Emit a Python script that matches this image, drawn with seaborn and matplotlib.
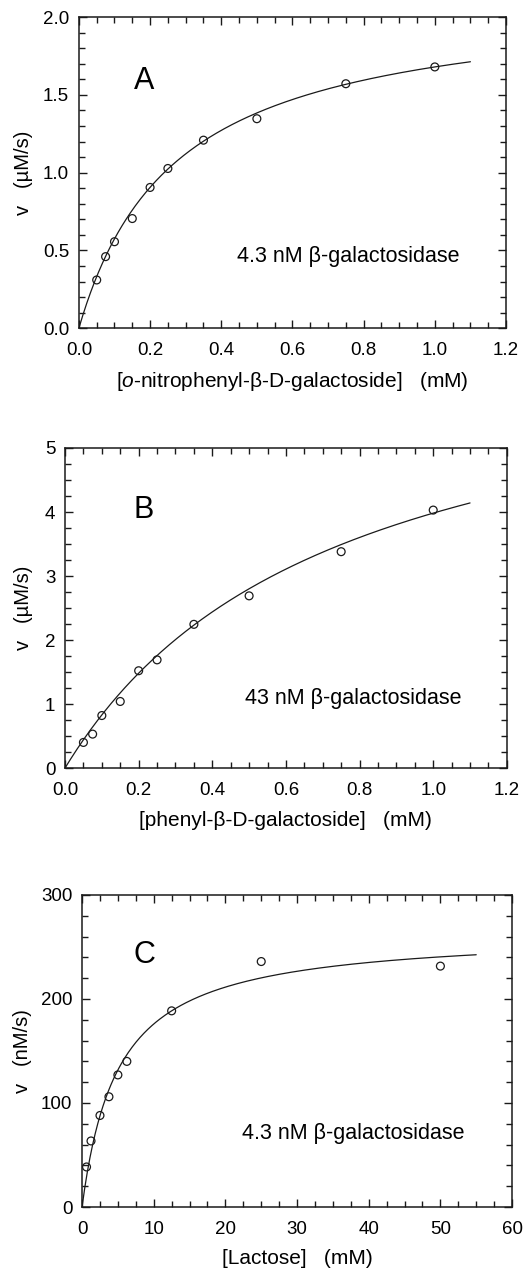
import numpy as np
import pandas as pd
import matplotlib
matplotlib.use("Agg")
import matplotlib.pyplot as plt
import seaborn as sns
from matplotlib.ticker import MultipleLocator, FormatStrFormatter

# panel A: o-nitrophenyl-beta-D-galactoside
onpg_conc = [0.05, 0.075, 0.1, 0.15, 0.2, 0.25, 0.35, 0.5, 0.75, 1.0]
onpg_rate = [0.31, 0.46, 0.556, 0.705, 0.905, 1.027, 1.209, 1.347, 1.572, 1.68]
onpg_fit = (2.137, 0.272)   # Vmax, Km

# panel B: phenyl-beta-D-galactoside
pg_conc = [0.05, 0.075, 0.1, 0.15, 0.2, 0.25, 0.35, 0.5, 0.75, 1.0]
pg_rate = [0.40, 0.53, 0.82, 1.04, 1.52, 1.69, 2.245, 2.69, 3.38, 4.03]
pg_fit = (6.89, 0.73)

# panel C: lactose
lac_conc = [0.625, 1.25, 2.5, 3.75, 5.0, 6.25, 12.5, 25.0, 50.0]
lac_rate = [38.5, 63.5, 88, 106, 127, 140, 188.6, 236, 231.6]
lac_fit = (264.8, 5.05)

sns.set_style("ticks")
plt.rcParams["font.family"] = ["Liberation Sans", "DejaVu Sans"]
plt.rcParams["mathtext.fontset"] = "custom"
plt.rcParams["mathtext.rm"] = "Liberation Sans"
plt.rcParams["mathtext.it"] = "Liberation Sans:italic"
plt.rcParams["text.color"] = "black"
plt.rcParams["axes.labelcolor"] = "black"
plt.rcParams["xtick.labelcolor"] = "black"
plt.rcParams["ytick.labelcolor"] = "black"

fig = plt.figure(figsize=(5.26, 12.72), dpi=100)

panels = [
    dict(rect=[0.150, 0.742, 0.812, 0.2445], x=onpg_conc, y=onpg_rate, fit=onpg_fit, xmax_fit=1.1,
         xlim=(0, 1.2), ylim=(0, 2.0), xmaj=0.2, xmin=0.05, ymaj=0.5, ymin=0.1,
         xfmt="%.1f", yfmt="%.1f", letter="A", letter_xy=(0.183, 1.59),
         note="4.3 nM β-galactosidase", note_xy=(0.756, 0.463),
         xlabel=r"[$\mathit{o}$-nitrophenyl-β-D-galactoside]   (mM)", ylabel="v   (µM/s)",
         ylab_x=-0.108),
    dict(rect=[0.1236, 0.3962, 0.840, 0.2516], x=pg_conc, y=pg_rate, fit=pg_fit, xmax_fit=1.1,
         xlim=(0, 1.2), ylim=(0, 5), xmaj=0.2, xmin=0.05, ymaj=1, ymin=0.25,
         xfmt="%.1f", yfmt="%d", letter="B", letter_xy=(0.213, 4.03),
         note="43 nM β-galactosidase", note_xy=(0.782, 1.09),
         xlabel="[phenyl-β-D-galactoside]   (mM)", ylabel="v   (µM/s)",
         ylab_x=-0.072),
    dict(rect=[0.156, 0.0511, 0.8175, 0.2453], x=lac_conc, y=lac_rate, fit=lac_fit, xmax_fit=55,
         xlim=(0, 60), ylim=(0, 300), xmaj=10, xmin=2.5, ymaj=100, ymin=20,
         xfmt="%d", yfmt="%d", letter="C", letter_xy=(8.65, 242),
         note="4.3 nM β-galactosidase", note_xy=(37.9, 71),
         xlabel="[Lactose]   (mM)", ylabel="v   (nM/s)",
         ylab_x=-0.116),
]

for p in panels:
    ax = fig.add_axes(p["rect"])
    vmax, km = p["fit"]
    s = np.linspace(0, p["xmax_fit"], 300)
    curve = pd.DataFrame({"s": s, "v": vmax * s / (km + s)})
    pts = pd.DataFrame({"s": p["x"], "v": p["y"]})
    sns.lineplot(data=curve, x="s", y="v", ax=ax, color="#1a1a1a", linewidth=0.9)
    sns.scatterplot(data=pts, x="s", y="v", ax=ax, s=32, facecolor="none",
                    edgecolor="#1a1a1a", linewidth=0.9, zorder=3)

    ax.set_xlim(*p["xlim"])
    ax.set_ylim(*p["ylim"])
    ax.xaxis.set_major_locator(MultipleLocator(p["xmaj"]))
    ax.xaxis.set_minor_locator(MultipleLocator(p["xmin"]))
    ax.yaxis.set_major_locator(MultipleLocator(p["ymaj"]))
    ax.yaxis.set_minor_locator(MultipleLocator(p["ymin"]))
    ax.xaxis.set_major_formatter(FormatStrFormatter(p["xfmt"]))
    ax.yaxis.set_major_formatter(FormatStrFormatter(p["yfmt"]))
    ax.tick_params(which="both", direction="in", top=True, right=True, width=1.0, color="#1a1a1a")
    ax.tick_params(which="major", length=6, labelsize=13.5)
    ax.tick_params(which="minor", length=4)
    ax.tick_params(axis="x", which="major", pad=10)
    ax.tick_params(axis="y", which="major", pad=7)
    for sp in ax.spines.values():
        sp.set_linewidth(1.1)
        sp.set_color("#1a1a1a")

    ax.set_xlabel(p["xlabel"], fontsize=15)
    ax.set_ylabel(p["ylabel"], fontsize=14.5)
    ax.xaxis.set_label_coords(0.5, -0.135)
    ax.yaxis.set_label_coords(p["ylab_x"], 0.5)

    ax.text(*p["letter_xy"], p["letter"], fontsize=22, ha="center", va="center")
    ax.text(*p["note_xy"], p["note"], fontsize=15.5, ha="center", va="center")

fig.savefig("out.png", dpi=100)
